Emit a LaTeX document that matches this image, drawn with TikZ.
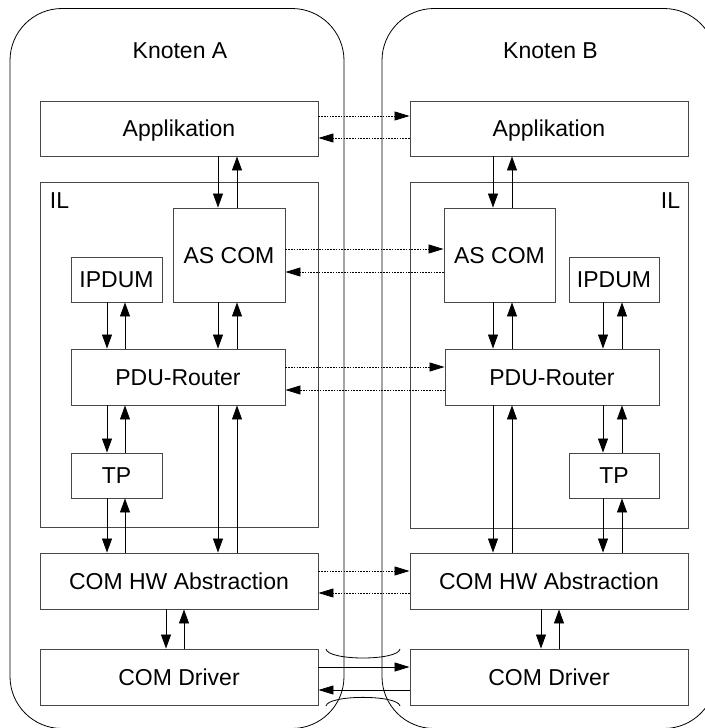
\documentclass[tikz,border=0pt]{standalone}
\usepackage{fontspec}
\setmainfont{Liberation Sans}
\usetikzlibrary{arrows.meta}

\begin{document}
\begin{tikzpicture}[x=1pt,y=-1pt,
  knoten/.style={draw=black, line width=0.8pt, rounded corners=52pt,
    minimum width=334pt, minimum height=720pt, inner sep=0pt},
  box/.style={draw=black!72, line width=0.9pt, fill=white, inner sep=0pt,
    text height=16.5pt, text depth=0pt},
  lbl/.style={inner sep=0pt, anchor=base},
  flow/.style={draw=black, line width=0.8pt,
    -{Triangle[length=14pt,width=10pt]}},
  peer/.style={draw=black, line width=0.8pt, dash pattern=on 1.5pt off 1.3pt,
    -{Triangle[length=15pt,width=9pt]}},
  wire/.style={draw=black, line width=0.8pt,
    -{Triangle[length=15pt,width=9pt]}},
  font=\fontsize{23pt}{27pt}\selectfont]

\useasboundingbox (0,0) rectangle (704,728);

% node frames
\node[knoten] (knA) at (177,368.5) {};
\node[knoten] (knB) at (549,368.5) {};
\node[lbl] (tA) at (180,58) {Knoten A};
\node[lbl] (tB) at (550.5,58) {Knoten B};

% ---------- Knoten A ----------
\node[box, minimum width=278pt, minimum height=55pt] (appA) at (179,128.5) {Applikation};
\node[box, minimum width=278pt, minimum height=345pt] (ilA) at (179,354.5) {};
\node[lbl] (ilAt) at (59.5,208) {IL};
\node[box, minimum width=112pt, minimum height=94pt] (ascA) at (229,255) {AS COM};
\node[box, minimum width=91pt, minimum height=45pt] (ipA) at (116.5,279.5) {IPDUM};
\node[box, minimum width=214pt, minimum height=56pt] (pduA) at (178,377) {PDU-Router};
\node[box, minimum width=91pt, minimum height=45pt] (tpA) at (116.5,475.5) {TP};
\node[box, minimum width=278pt, minimum height=56pt] (hwA) at (179,581) {COM HW Abstraction};
\node[box, minimum width=278pt, minimum height=56pt] (drvA) at (179,677) {COM Driver};

% ---------- Knoten B ----------
\node[box, minimum width=278pt, minimum height=55pt] (appB) at (549,128.5) {Applikation};
\node[box, minimum width=278pt, minimum height=346pt] (ilB) at (549,355) {};
\node[lbl] (ilBt) at (670.5,208) {IL};
\node[box, minimum width=111pt, minimum height=94pt] (ascB) at (499.5,255) {AS COM};
\node[box, minimum width=90pt, minimum height=45pt] (ipB) at (614,279.5) {IPDUM};
\node[box, minimum width=214pt, minimum height=56pt] (pduB) at (552,377) {PDU-Router};
\node[box, minimum width=90pt, minimum height=45pt] (tpB) at (614,475.5) {TP};
\node[box, minimum width=278pt, minimum height=56pt] (hwB) at (549,581) {COM HW Abstraction};
\node[box, minimum width=278pt, minimum height=56pt] (drvB) at (549,677) {COM Driver};

% vertical lanes
\coordinate (a1) at (107,0);  \coordinate (a2) at (125,0);
\coordinate (b1) at (218,0);  \coordinate (b2) at (237,0);
\coordinate (c1) at (166,0);  \coordinate (c2) at (184,0);
\coordinate (d1) at (493,0);  \coordinate (d2) at (512,0);
\coordinate (e1) at (603,0);  \coordinate (e2) at (622,0);
\coordinate (f1) at (541,0);  \coordinate (f2) at (559,0);

% horizontal lanes
\coordinate (h1) at (0,116);  \coordinate (h2) at (0,138);
\coordinate (h3) at (0,249);  \coordinate (h4) at (0,272);
\coordinate (h5) at (0,367);  \coordinate (h6) at (0,390);
\coordinate (h7) at (0,571);  \coordinate (h8) at (0,593);
\coordinate (h9) at (0,667);  \coordinate (h10) at (0,690);

% vertical flows, Knoten A
\draw[flow] (appA.south -| b1) -- (ascA.north -| b1);
\draw[flow] (ascA.north -| b2) -- (appA.south -| b2);
\draw[flow] (ipA.south -| a1) -- (pduA.north -| a1);
\draw[flow] (pduA.north -| a2) -- (ipA.south -| a2);
\draw[flow] (ascA.south -| b1) -- (pduA.north -| b1);
\draw[flow] (pduA.north -| b2) -- (ascA.south -| b2);
\draw[flow] (pduA.south -| a1) -- (tpA.north -| a1);
\draw[flow] (tpA.north -| a2) -- (pduA.south -| a2);
\draw[flow] (tpA.south -| a1) -- (hwA.north -| a1);
\draw[flow] (hwA.north -| a2) -- (tpA.south -| a2);
\draw[flow] (pduA.south -| b1) -- (hwA.north -| b1);
\draw[flow] (hwA.north -| b2) -- (pduA.south -| b2);
\draw[flow] (hwA.south -| c1) -- (drvA.north -| c1);
\draw[flow] (drvA.north -| c2) -- (hwA.south -| c2);

% vertical flows, Knoten B
\draw[flow] (appB.south -| d1) -- (ascB.north -| d1);
\draw[flow] (ascB.north -| d2) -- (appB.south -| d2);
\draw[flow] (ascB.south -| d1) -- (pduB.north -| d1);
\draw[flow] (pduB.north -| d2) -- (ascB.south -| d2);
\draw[flow] (ipB.south -| e1) -- (pduB.north -| e1);
\draw[flow] (pduB.north -| e2) -- (ipB.south -| e2);
\draw[flow] (pduB.south -| e1) -- (tpB.north -| e1);
\draw[flow] (tpB.north -| e2) -- (pduB.south -| e2);
\draw[flow] (tpB.south -| e1) -- (hwB.north -| e1);
\draw[flow] (hwB.north -| e2) -- (tpB.south -| e2);
\draw[flow] (pduB.south -| d1) -- (hwB.north -| d1);
\draw[flow] (hwB.north -| d2) -- (pduB.south -| d2);
\draw[flow] (hwB.south -| f1) -- (drvB.north -| f1);
\draw[flow] (drvB.north -| f2) -- (hwB.south -| f2);

% peer-to-peer relations
\draw[peer] (appA.east |- h1) -- (appB.west |- h1);
\draw[peer] (appB.west |- h2) -- (appA.east |- h2);
\draw[peer] (ascA.east |- h3) -- (ascB.west |- h3);
\draw[peer] (ascB.west |- h4) -- (ascA.east |- h4);
\draw[peer] (pduA.east |- h5) -- (pduB.west |- h5);
\draw[peer] (pduB.west |- h6) -- (pduA.east |- h6);
\draw[peer] (hwA.east |- h7) -- (hwB.west |- h7);
\draw[peer] (hwB.west |- h8) -- (hwA.east |- h8);

% physical bus
\draw[wire] (drvA.east |- h9) -- (drvB.west |- h9);
\draw[wire] (drvB.west |- h10) -- (drvA.east |- h10);
\draw[line width=0.8pt] (326,649) .. controls (328,661) and (398,661) .. (400,649);
\draw[line width=0.8pt] (326,706) .. controls (328,694.5) and (398,694.5) .. (400,706);

\end{tikzpicture}
\end{document}
